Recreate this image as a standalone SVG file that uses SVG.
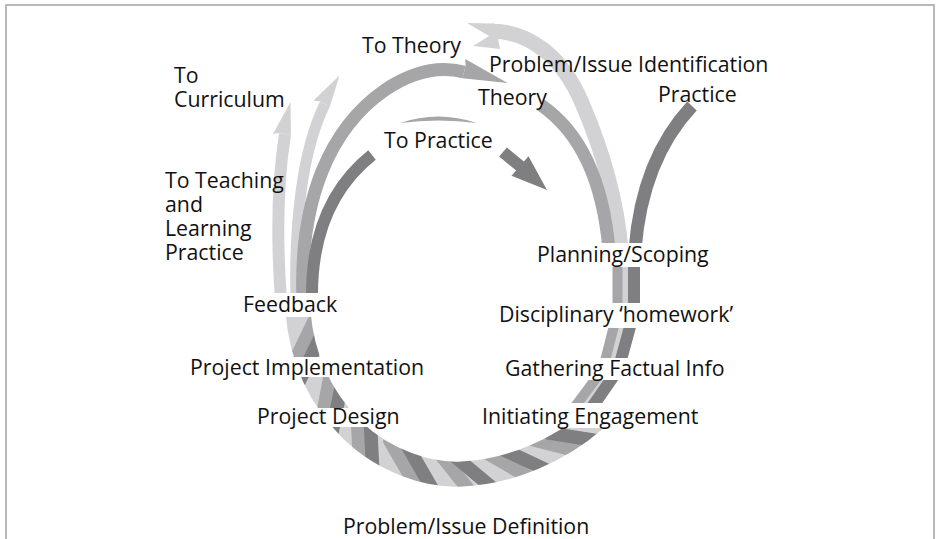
<svg xmlns="http://www.w3.org/2000/svg" width="936" height="539" viewBox="0 0 936 539">
<style>
  text{font-family:"Open Sans","Noto Sans","DejaVu Sans",sans-serif;font-size:21.3px;fill:#111}
  .lt{stroke:#d2d2d4;fill:none}
  .md{stroke:#a6a6a8;fill:none}
  .dk{stroke:#7f7f82;fill:none}
  .flt{fill:#d2d2d4}
  .fmd{fill:#a6a6a8}
  .fdk{fill:#7f7f82}
</style>
<defs>
  <rect id="stripe" x="-32" y="-6.7" width="64" height="13.4" rx="5"/>
  <!-- label rows knock out the strands -->
  <mask id="gaps" maskUnits="userSpaceOnUse" x="0" y="0" width="936" height="539">
    <rect width="936" height="539" fill="#fff"/>
    <g fill="#000">
      <rect x="230" y="293" width="120" height="24"/>
      <rect x="180" y="357" width="250" height="20"/>
      <rect x="240" y="408" width="170" height="19"/>
      <rect x="480" y="243" width="240" height="24"/>
      <rect x="480" y="303" width="280" height="25"/>
      <rect x="480" y="358" width="260" height="22"/>
      <rect x="470" y="403" width="250" height="25"/>
    </g>
  </mask>
  <!-- rope body for the twisted section -->
  <mask id="band" maskUnits="userSpaceOnUse" x="0" y="0" width="936" height="539">
    <path d="M298,312 C302,360 322,400 352,430 C385,462 430,476 462,474 C510,472 560,450 594,420" stroke="#fff" stroke-width="25" fill="none"/>
  </mask>
</defs>

<rect x="6" y="5" width="928" height="560" fill="none" stroke="#a8a8a8" stroke-width="1.6"/>

<g id="connectors" mask="url(#gaps)">
  <!-- twisted rope: left side round the bottom -->
  <g id="rope" mask="url(#band)">
    <path d="M298,312 C302,360 322,400 352,430 C385,462 430,476 462,474 C510,472 560,450 594,420" class="lt" stroke-width="30"/>
    <g class="fmd">
      <use href="#stripe" transform="translate(303.8,342.4) rotate(115.7)"/>
      <use href="#stripe" transform="translate(327.3,390.7) rotate(100.8)"/>
      <use href="#stripe" transform="translate(358.2,434.9) rotate(87)"/>
      <use href="#stripe" transform="translate(403.1,463.8) rotate(60)"/>
      <use href="#stripe" transform="translate(456,473.9) rotate(51.3)"/>
      <use href="#stripe" transform="translate(509.3,465.9) rotate(30)"/>
      <use href="#stripe" transform="translate(559.3,446.4) rotate(14)"/>
    </g>
    <g class="fdk">
      <use href="#stripe" transform="translate(309.8,359.3) rotate(115.7)"/>
      <use href="#stripe" transform="translate(337.4,405.6) rotate(101.3)"/>
      <use href="#stripe" transform="translate(371.6,446.9) rotate(87)"/>
      <use href="#stripe" transform="translate(420.5,468.5) rotate(60)"/>
      <use href="#stripe" transform="translate(474,472.5) rotate(39.8)"/>
      <use href="#stripe" transform="translate(526.5,460.6) rotate(25)"/>
      <use href="#stripe" transform="translate(574.7,437.1) rotate(9)"/>
    </g>
  </g>

  <!-- right side: three parallel strands -->
  <g id="right-strands">
    <path d="M492,31 C530,32 562,56 582,103 C598,140 616,190 621,250" class="lt" stroke-width="15"/>
    <polygon class="flt" points="494,23.5 467,23 489,36 473,46 500,49 498,38.5"/>
    <path d="M625,255 L625,312 L610.5,369 L577,416" class="lt" stroke-width="8"/>
    <path d="M541,105 C580,132 603,180 609,250" class="md" stroke-width="13"/>
    <path d="M617.5,255 L617.5,312 L603,369 L568,416" class="md" stroke-width="10"/>
    <path d="M692,106 C662,138 640,185 635,250" class="dk" stroke-width="13"/>
    <path d="M634,255 L634,312 L618.5,369 L586,416" class="dk" stroke-width="12"/>
  </g>

  <!-- left side: strands fanning out into arrows -->
  <g id="left-strands">
    <path d="M281,300 C277,245 277,185 285,134" class="lt" stroke-width="12"/>
    <polygon class="flt" points="279.1,133 272.9,134 290.5,102 290.9,135"/>
    <path d="M296,300 C294,225 302,150 325,104" class="lt" stroke-width="11"/>
    <polygon class="flt" points="320.1,101.5 313.4,100.4 339.5,75.5 329.9,106.5"/>
    <path d="M303,300 C299,200 330,128 385,90 C415,70 440,66 464,72" class="md" stroke-width="13"/>
    <polygon class="fmd" points="465.6,65.7 465.3,58.9 507.6,82.9 462.4,78.3"/>
    <path d="M312,300 C311,240 328,190 372,155" class="dk" stroke-width="12"/>
  </g>

  <!-- over the top towards practice -->
  <path id="practice-arc" class="fmd" d="M400,123 Q438,110 477,123 Q438,118 400,123 Z"/>
  <polygon id="practice-head" class="fdk" points="506.9,147.5 499.1,156.5 516.1,170.5 511.5,175.8 547,190 528.5,156.2 523.9,161.5"/>
</g>

<g id="labels">
  <g id="n-to-theory"><text x="362" y="53">To Theory</text></g>
  <g id="n-problem-identification"><text x="489" y="72">Problem/Issue Identification</text></g>
  <g id="n-to-curriculum"><text x="174" y="83">To<tspan x="174" dy="24">Curriculum</tspan></text></g>
  <g id="n-theory"><text x="478" y="105">Theory</text></g>
  <g id="n-practice"><text x="658" y="102">Practice</text></g>
  <g id="n-to-practice"><text x="384" y="148">To Practice</text></g>
  <g id="n-to-teaching"><text x="165" y="188">To Teaching<tspan x="165" dy="24">and</tspan><tspan x="165" dy="24">Learning</tspan><tspan x="165" dy="24">Practice</tspan></text></g>
  <g id="n-planning"><text x="537" y="262">Planning/Scoping</text></g>
  <g id="n-feedback"><text x="243" y="312">Feedback</text></g>
  <g id="n-homework"><text x="499" y="322">Disciplinary ‘homework’</text></g>
  <g id="n-implementation"><text x="190" y="375">Project Implementation</text></g>
  <g id="n-gathering"><text x="505" y="376">Gathering Factual Info</text></g>
  <g id="n-design"><text x="257" y="424">Project Design</text></g>
  <g id="n-engagement"><text x="482" y="424">Initiating Engagement</text></g>
  <g id="n-definition"><text x="343" y="534">Problem/Issue Definition</text></g>
</g>
</svg>
